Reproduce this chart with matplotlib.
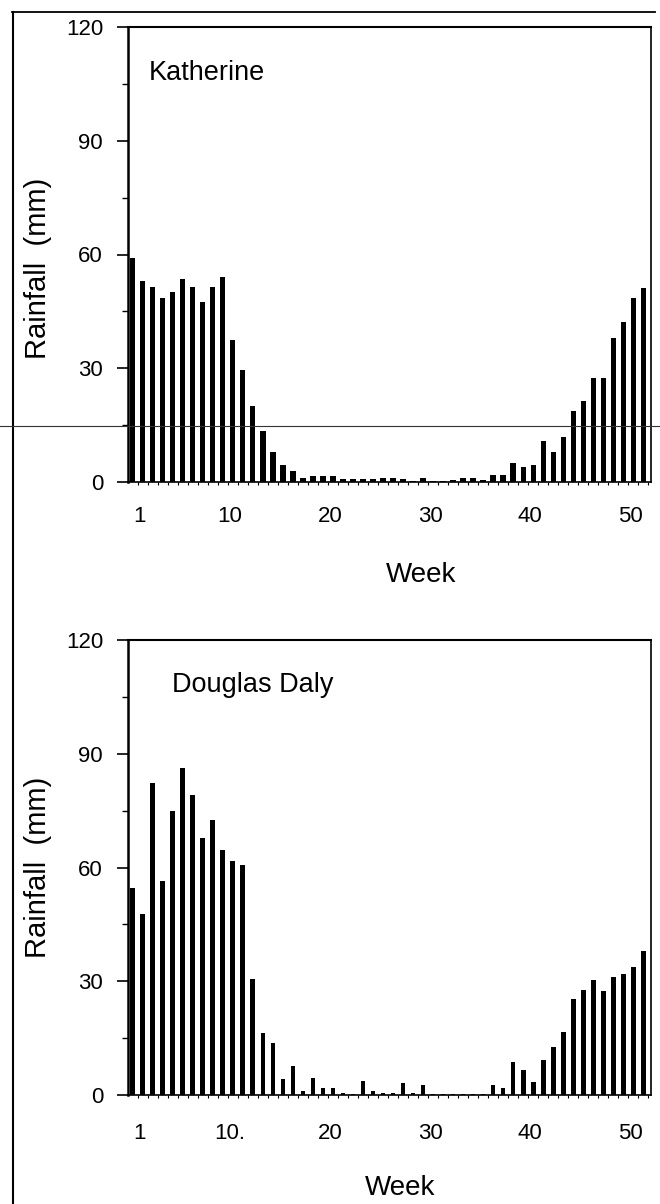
import numpy as np
import matplotlib
matplotlib.use('Agg')
from matplotlib import pyplot as plt
from matplotlib.lines import Line2D
from matplotlib.ticker import FixedLocator

plt.rcParams['font.family'] = ['Liberation Sans', 'DejaVu Sans']

weeks = np.arange(1, 53)
# weekly mean rainfall (mm)
katherine = [59, 53, 51.5, 48.5, 50, 53.5, 51.5, 47.5, 51.5, 54,
             37.5, 29.5, 20, 13.5, 8, 4.5, 3, 1, 1.5, 1.6,
             1.5, 0.8, 0.9, 0.9, 0.7, 1.1, 1.0, 0.7, 0.3, 1.0,
             0.3, 0.3, 0.4, 1.1, 1.1, 0.5, 1.8, 1.8, 5.1, 3.9,
             4.6, 10.8, 7.9, 11.9, 18.7, 21.4, 27.4, 27.4, 37.9, 42.1, 48.4, 51.2]
douglas_daly = [54.5, 47.8, 82.4, 56.4, 75, 86.3, 79.2, 67.7, 72.4, 64.5,
                61.8, 60.6, 30.6, 16.4, 13.6, 4.2, 7.6, 1.0, 4.4, 1.8,
                1.8, 0.4, 0.3, 3.8, 1.0, 0.4, 0.4, 3.1, 0.4, 2.6,
                0.3, 0.3, 0.3, 0.3, 0.3, 0.3, 2.6, 1.8, 8.6, 6.6,
                3.3, 9.2, 12.6, 16.7, 25.2, 27.7, 30.4, 27.3, 31.0, 31.8, 33.7, 38.1]
stations = ['Katherine', 'Douglas Daly']
tick_weeks = [1, 10, 20, 30, 40, 50]
top_labels = ['1', '10', '20', '30', '40', '50']
bottom_labels = ['1', '10.', '20', '30', '40', '50']
y_ticks = [0, 30, 60, 90, 120]

fig = plt.figure(figsize=(6.6, 12.04), dpi=100)
W, H = 660.0, 1204.0

def make_panel(rect, vals, name, labels, bw, xpad, label_x, name_x, ylab_y):
    ax = fig.add_axes(rect)
    ax.bar(weeks, vals, width=bw, color='black', linewidth=0)
    ax.set_xlim(0.55, 52.75)
    ax.set_ylim(0, 120)
    ax.set_yticks(y_ticks)
    ax.yaxis.set_minor_locator(FixedLocator([15, 45, 75, 105]))
    ax.set_xticks(np.array(tick_weeks) + 0.7)
    ax.set_xticklabels(labels)
    ax.xaxis.set_minor_locator(FixedLocator(weeks + 0.5))
    ax.tick_params(axis='y', which='major', length=8, width=1.2, pad=10, labelsize=16, direction='out')
    ax.tick_params(axis='y', which='minor', length=4, width=1.0, direction='out')
    ax.tick_params(axis='x', which='major', length=0, pad=xpad, labelsize=16)
    ax.tick_params(axis='x', which='minor', length=2.5, width=0.8, direction='out')
    for s in ['top', 'right', 'bottom']:
        ax.spines[s].set_linewidth(1.2)
    ax.spines['left'].set_linewidth(1.8)
    ax.spines['top'].set_linewidth(1.5)
    ax.set_ylabel('Rainfall  (mm)', fontsize=21)
    ax.yaxis.set_label_coords(-0.145, ylab_y)
    ax.set_xlabel('Week', fontsize=20)
    ax.xaxis.set_label_coords(label_x, -0.175)
    ax.text(name_x, 0.9, name, transform=ax.transAxes, fontsize=19.5, va='center', ha='left')
    return ax

l, r = 128 / W, 651 / W
make_panel([l, 1 - 482 / H, r - l, 455 / H], katherine, stations[0], top_labels, 0.55, 17, 0.56, 0.04, 0.47)
make_panel([l, 1 - 1095 / H, r - l, 455 / H], douglas_daly, stations[1], bottom_labels, 0.45, 20, 0.52, 0.084, 0.5)

# frame lines of the scanned page
fig.add_artist(Line2D([13 / W, 13 / W], [0, 1 - 12 / H], color='black', lw=1.5))
fig.add_artist(Line2D([12 / W, 655 / W], [1 - 12 / H, 1 - 12 / H], color='black', lw=1.3))
fig.add_artist(Line2D([0, 1], [1 - 426 / H, 1 - 426 / H], color='#333333', lw=0.8))

fig.savefig('out.png', dpi=100)
